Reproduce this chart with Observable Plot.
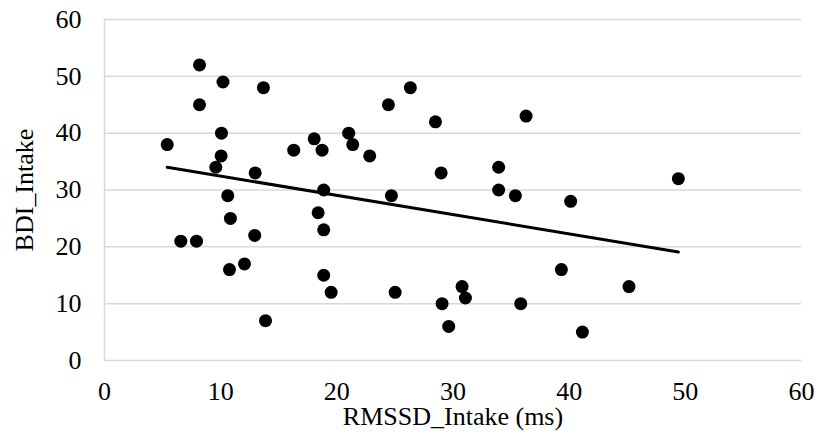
<!DOCTYPE html>
<html>
<head>
<meta charset="utf-8">
<script src="https://cdn.jsdelivr.net/npm/d3@7"></script>
<script src="https://cdn.jsdelivr.net/npm/@observablehq/plot@0.6"></script>
<style>
  html, body { margin: 0; padding: 0; background: #fff; }
  svg { display: block; }
  svg text { font-family: 'Liberation Serif', 'Times New Roman', serif !important; font-variant: normal !important; font-variant-numeric: normal !important; }
</style>
</head>
<body>
<div id="chart"></div>
<script>
const rmssd = [5.40, 6.57, 7.92, 8.18, 8.18, 10.2, 10.07, 10.04, 9.58, 10.61, 10.84, 10.76, 12.05, 12.97, 12.93, 13.68, 13.86, 16.29, 18.05, 18.39, 18.73, 18.87, 18.87, 18.87, 19.51, 21.02, 21.37, 22.83, 24.44, 24.7, 25.02, 26.33, 28.49, 28.98, 29.06, 29.63, 30.78, 31.07, 33.93, 33.93, 35.37, 35.83, 36.29, 39.33, 40.13, 41.14, 45.15, 49.4];
const bdi = [38, 21, 21, 52, 45, 49, 40, 36, 34, 29, 25, 16, 17, 33, 22, 48, 7, 37, 39, 26, 37, 30, 23, 15, 12, 40, 38, 36, 45, 29, 12, 48, 42, 33, 10, 6, 13, 11, 34, 30, 29, 10, 43, 16, 28, 5, 13, 32];
const trendX = [5.40, 49.4];
const trendY = [34.0, 19.1];
const xTicks = [0, 10, 20, 30, 40, 50, 60];
const yTicks = [0, 10, 20, 30, 40, 50, 60];

const points = rmssd.map((x, i) => ({x, y: bdi[i]}));
const trend = trendX.map((x, i) => ({x, y: trendY[i]}));

const chart = Plot.plot({
  width: 822,
  height: 445,
  marginTop: 19,
  marginLeft: 104,
  marginRight: 21,
  marginBottom: 85,
  style: {fontFamily: "'Liberation Serif', 'Times New Roman', serif", fontSize: "26px", color: "#000", background: "#fff"},
  x: {domain: [0, 60]},
  y: {domain: [0, 60]},
  marks: [
    Plot.gridY(yTicks, {stroke: "#d9d9d9", strokeOpacity: 1, strokeWidth: 1.5}),
    Plot.ruleX([0], {stroke: "#d9d9d9", strokeWidth: 1.5}),
    Plot.axisX(xTicks, {tickSize: 0, tickPadding: 21, fontSize: 26, fontVariant: "normal", label: "RMSSD_Intake (ms)", labelAnchor: "center", labelArrow: "none", labelOffset: 64}),
    Plot.axisY(yTicks, {tickSize: 0, tickPadding: 23, fontSize: 26, fontVariant: "normal", label: "BDI_Intake", labelAnchor: "center", labelArrow: "none", labelOffset: 90}),
    Plot.line(trend, {x: "x", y: "y", stroke: "#000", strokeWidth: 3}),
    Plot.dot(points, {x: "x", y: "y", r: 6.5, fill: "#000", stroke: "none"})
  ]
});
document.getElementById("chart").appendChild(chart);
</script>
</body>
</html>
